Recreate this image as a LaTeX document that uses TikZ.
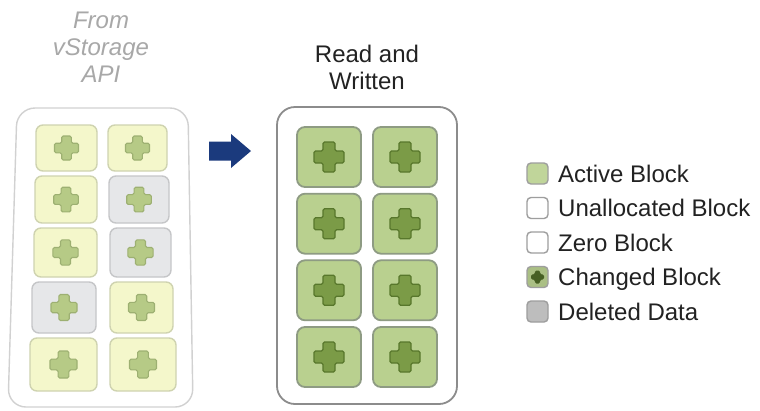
\documentclass[tikz,border=0pt]{standalone}
\usepackage{fontspec}
\setmainfont{Liberation Sans}
\definecolor{midfill}{HTML}{B9D08F}
\definecolor{midline}{HTML}{8E9B83}
\definecolor{crossfill}{HTML}{7B9B47}
\definecolor{crossline}{HTML}{58772C}
\definecolor{lyfill}{HTML}{F4F7CB}
\definecolor{lyline}{HTML}{CFD3B0}
\definecolor{lgfill}{HTML}{E6E7E9}
\definecolor{lgline}{HTML}{C5C6C8}
\definecolor{lcfill}{HTML}{B6CA86}
\definecolor{lcline}{HTML}{9DB072}
\definecolor{navy}{HTML}{1B3A7D}
\definecolor{txt}{HTML}{222222}
\definecolor{fadetxt}{HTML}{A8A8A8}
\tikzset{
  crossmark/.pic={\path[rounded corners=1.5pt, pic actions]
    (-1,-0.4) -- (-0.4,-0.4) -- (-0.4,-1) -- (0.4,-1) -- (0.4,-0.4) -- (1,-0.4)
    -- (1,0.4) -- (0.4,0.4) -- (0.4,1) -- (-0.4,1) -- (-0.4,0.4) -- (-1,0.4) -- cycle;},
  midblock/.style={draw=midline, fill=midfill, line width=1.8pt, rounded corners=8pt,
    minimum width=64pt, minimum height=60pt, inner sep=0pt},
  lyblock/.style={draw=lyline, fill=lyfill, line width=1.4pt, rounded corners=7pt, inner sep=0pt},
  lgblock/.style={draw=lgline, fill=lgfill, line width=1.4pt, rounded corners=7pt, inner sep=0pt},
  midcross/.style={fill=crossfill, draw=crossline, line width=1.3pt, scale=15},
  lcross/.style={fill=lcfill, draw=lcline, line width=1.1pt},
  legsq/.style={line width=1.4pt, rounded corners=4pt, minimum size=21pt, inner sep=0pt},
  legtxt/.style={anchor=base west, inner sep=0pt, text=txt, font=\fontsize{24}{27}\selectfont},
}
\begin{document}
\begin{tikzpicture}[x=1pt, y=-1pt]
\useasboundingbox (0,0) rectangle (760,410);
\fill[white] (0,0) rectangle (760,410);

% ---------- left panel ----------
\node[anchor=north, align=center, inner sep=0pt, text=fadetxt,
      font=\fontsize{24}{27}\selectfont\itshape] (ltitle) at (101,11.5) {From\\vStorage\\API};
\draw[draw=black!18, line width=1.4pt, rounded corners=18pt]
  (17,108) -- (188,108) -- (193,407) -- (8,407) -- cycle;

\node[lyblock, minimum width=61pt, minimum height=46pt] (l11) at (66.5,148) {};
\node[lyblock, minimum width=59pt, minimum height=46pt] (l12) at (137.5,148) {};
\node[lyblock, minimum width=62pt, minimum height=47pt] (l21) at (66,199.5) {};
\node[lgblock, minimum width=60pt, minimum height=47pt] (l22) at (139,199.5) {};
\node[lyblock, minimum width=63pt, minimum height=49pt] (l31) at (65.5,252.5) {};
\node[lgblock, minimum width=61pt, minimum height=49pt] (l32) at (140.5,252.5) {};
\node[lgblock, minimum width=64pt, minimum height=51pt] (l41) at (64,307.5) {};
\node[lyblock, minimum width=63pt, minimum height=51pt] (l42) at (141.5,307.5) {};
\node[lyblock, minimum width=67pt, minimum height=53pt] (l51) at (63.5,364.5) {};
\node[lyblock, minimum width=66pt, minimum height=53pt] (l52) at (143,364.5) {};

\pic[lcross, scale=12] at (l11) {crossmark};
\pic[lcross, scale=12] at (l12) {crossmark};
\pic[lcross, scale=12.3] at (l21) {crossmark};
\pic[lcross, scale=12.3] at (l22) {crossmark};
\pic[lcross, scale=12.6] at (l31) {crossmark};
\pic[lcross, scale=12.6] at (l32) {crossmark};
\pic[lcross, scale=13] at (l41) {crossmark};
\pic[lcross, scale=13] at (l42) {crossmark};
\pic[lcross, scale=13.5] at (l51) {crossmark};
\pic[lcross, scale=13.5] at (l52) {crossmark};

% ---------- arrow ----------
\fill[navy] (209,141.5) -- (231,141.5) -- (231,134) -- (251,151) -- (231,168)
  -- (231,160.5) -- (209,160.5) -- cycle;

% ---------- middle panel ----------
\node[anchor=north, align=center, inner sep=0pt, text=txt,
      font=\fontsize{24}{27}\selectfont] (mtitle) at (367,44.5) {Read and\\Written};
\node[draw=black!45, line width=1.8pt, rounded corners=18pt, minimum width=180pt,
      minimum height=297pt, inner sep=0pt] (mpanel) at (367,255.5) {};
\foreach \r/\y in {1/157, 2/223.7, 3/290.3, 4/357}{
  \node[midblock] (m\r1) at (329,\y) {};
  \node[midblock] (m\r2) at (405,\y) {};
  \pic[midcross] at (m\r1) {crossmark};
  \pic[midcross] at (m\r2) {crossmark};
}

% ---------- legend ----------
\node[legsq, draw=black!38, fill=midfill!90!white] (sqa) at (537.5,173.5) {};
\node[legsq, draw=black!38, fill=white] (squ) at (537.5,208) {};
\node[legsq, draw=black!38, fill=white] (sqz) at (537.5,242.5) {};
\node[legsq, draw=black!38, fill=midfill!92!black] (sqc) at (537.5,277) {};
\pic[fill=crossline!80!black, scale=6.5, rounded corners=0.6pt] at (sqc) {crossmark};
\node[legsq, draw=black!38, fill=black!26] (sqd) at (537.5,311.5) {};

\node[legtxt] (ta) at (558,182) {Active Block};
\node[legtxt] (tu) at (558,216.5) {Unallocated Block};
\node[legtxt] (tz) at (558,251) {Zero Block};
\node[legtxt] (tc) at (558,285.5) {Changed Block};
\node[legtxt] (td) at (558,320) {Deleted Data};
\end{tikzpicture}
\end{document}
